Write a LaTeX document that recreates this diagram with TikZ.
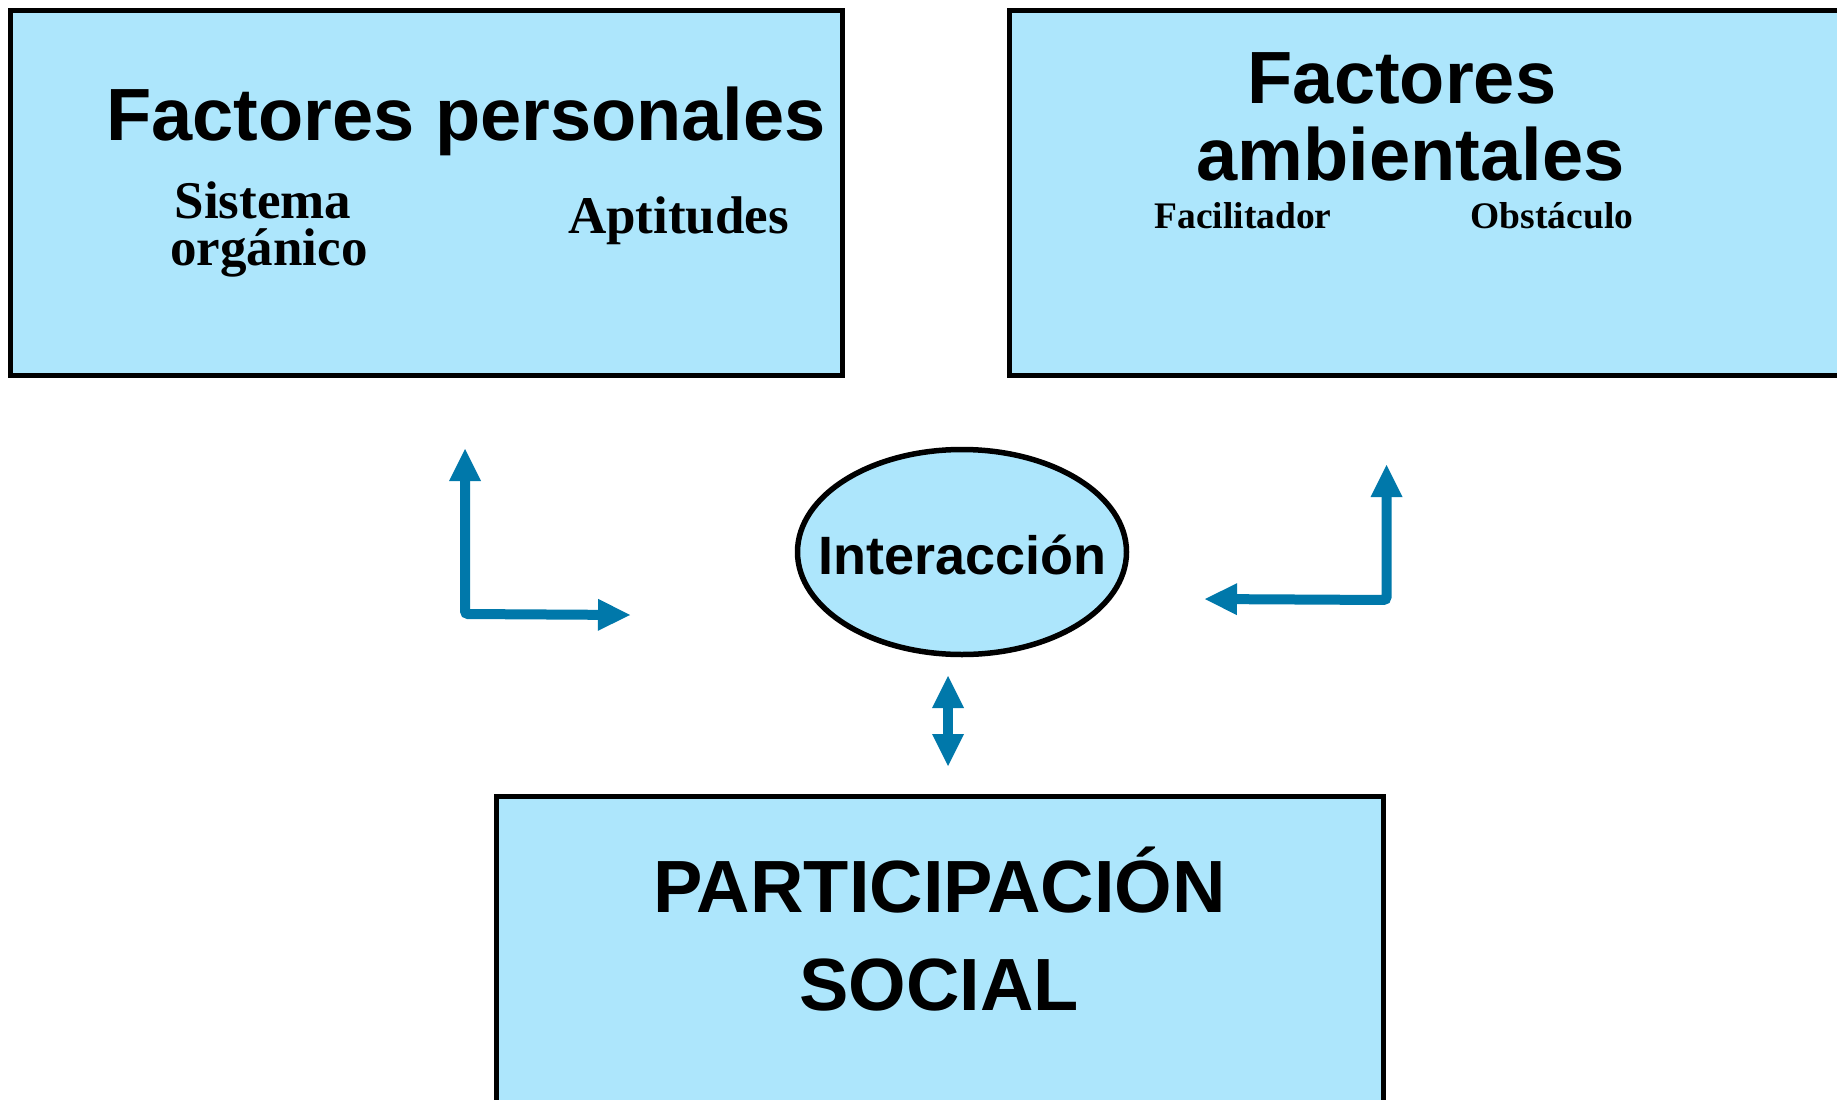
\documentclass[tikz,border=0pt]{standalone}
\usepackage{fontspec}
\setmainfont{Liberation Serif}
\setsansfont{Liberation Sans}
\usetikzlibrary{shapes.geometric,arrows.meta}
\definecolor{boxfill}{RGB}{173,230,252}
\definecolor{arrowblue}{RGB}{0,120,170}
\tikzset{
  box/.style={rectangle, draw=black, line width=5pt, fill=boxfill, inner sep=0pt},
  oval/.style={ellipse, draw=black, line width=5.5pt, fill=boxfill, inner sep=0pt},
  bigsans/.style={font=\sffamily\bfseries\fontsize{74}{74}\selectfont, inner sep=0pt, anchor=base},
  midsans/.style={font=\sffamily\bfseries\fontsize{54}{54}\selectfont, inner sep=0pt, anchor=base},
  bigserif/.style={font=\rmfamily\bfseries\fontsize{53}{53}\selectfont, inner sep=0pt, anchor=base},
  smallserif/.style={font=\rmfamily\bfseries\fontsize{37.5}{37.5}\selectfont, inner sep=0pt, anchor=base},
  arr/.style={draw=arrowblue, line width=10pt, rounded corners=3pt,
    arrows={Triangle[length=32pt,width=32pt,line width=0pt]-Triangle[length=32pt,width=32pt,line width=0pt]}}
}
\begin{document}
\begin{tikzpicture}[x=1pt,y=-1pt]
\useasboundingbox (0,0) rectangle (1837,1100);
\clip (0,0) rectangle (1837,1100);
\fill[white] (0,0) rectangle (1837,1100);
% boxes
\node[box, minimum width=832pt, minimum height=364.7pt] (pers) at (426.5,193.15) {};
\node[box, minimum width=832pt, minimum height=364.7pt] (amb) at (1425.5,193.15) {};
\node[box, minimum width=887.5pt, minimum height=365pt] (part) at (939.75,979) {};
\node[oval, minimum width=329pt, minimum height=205pt] (inter) at (962,552) {};
% texts
\node[bigsans] (tpers) at (466,140) {Factores personales};
\node[bigserif] (tsis) at (263,218) {Sistema};
\node[bigserif] (torg) at (269,265) {orgánico};
\node[bigserif] (tapt) at (678.5,233.3) {Aptitudes};
\node[bigsans] (tfac) at (1402,103.3) {Factores};
\node[bigsans] (tamb) at (1410.5,180) {ambientales};
\node[smallserif] (tfacil) at (1243,228.3) {Facilitador};
\node[smallserif] (tobs) at (1552,228.3) {Obstáculo};
\node[midsans] (tint) at (962.5,574) {Interacción};
\node[bigsans] (tpart) at (939.5,912.3) {PARTICIPACIÓN};
\node[bigsans] (tsoc) at (939,1010) {SOCIAL};
% arrows
\coordinate (la1) at (465,449);
\coordinate (lc) at (465,614);
\coordinate (la2) at (630,615);
\draw[arr] (la1) -- (lc) -- (la2);
\coordinate (ra1) at (1386.5,465);
\coordinate (rc) at (1386.5,600);
\coordinate (ra2) at (1205,599);
\draw[arr] (ra1) -- (rc) -- (ra2);
\coordinate (ma1) at (948,676);
\coordinate (ma2) at (948,766);
\draw[arr] (ma1) -- (ma2);
\end{tikzpicture}
\end{document}
